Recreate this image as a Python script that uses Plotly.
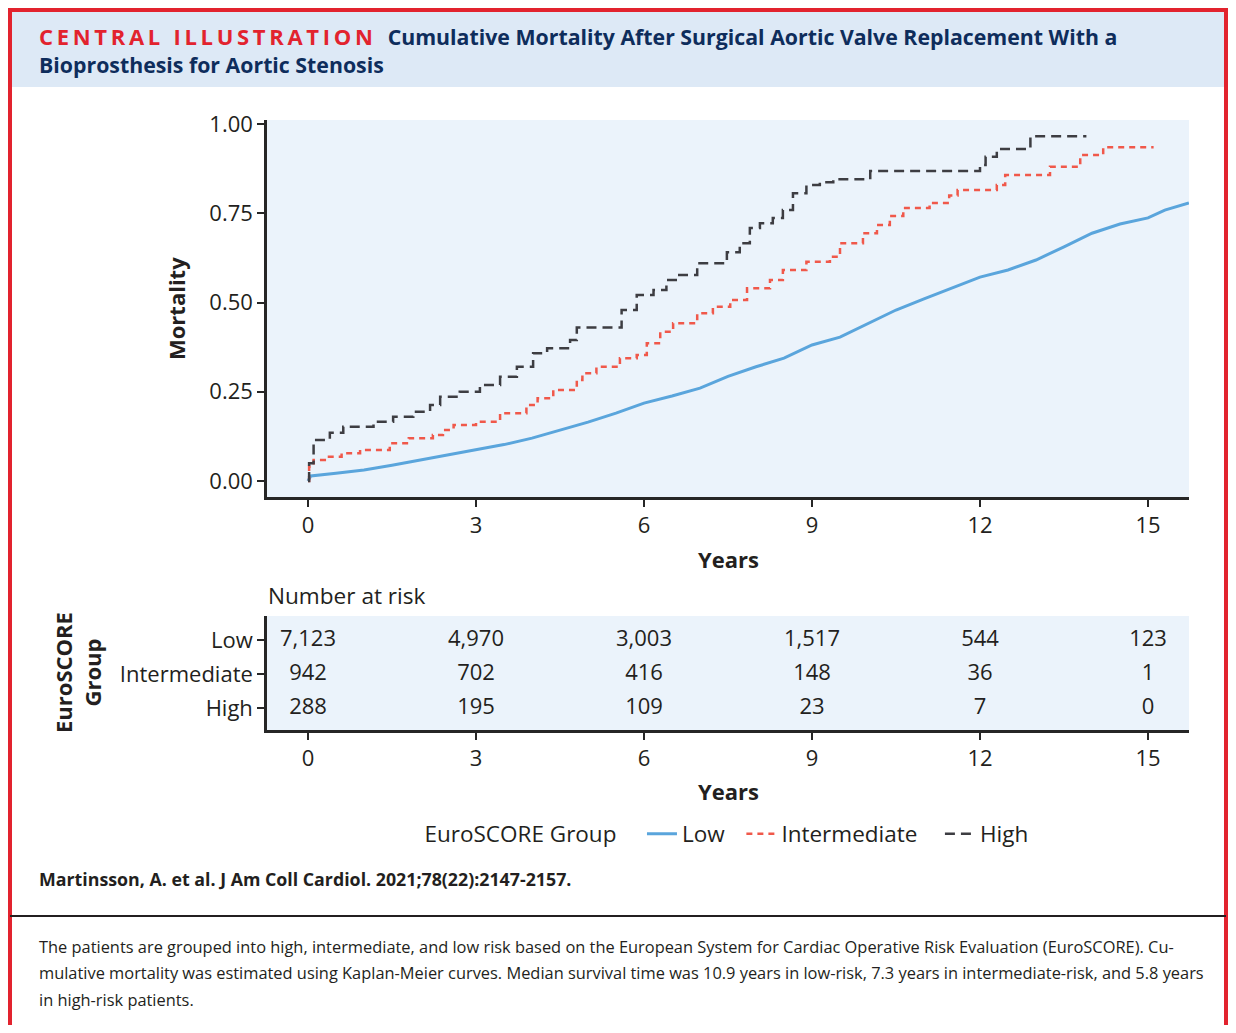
import plotly.graph_objects as go

# The page body adds an 8px margin; size the figure so the page fits the 1236x1033 window.
OFF = 8
W, H = 1226, 1033 - 2 * OFF
def px(x): return (x - OFF) / W
def py(y): return 1 - (y - OFF) / H

FONT = "Open Sans, Noto Sans, sans-serif"
TXT = "#231f20"
NB = "\u00a0"

# ---------------- data ----------------
groups = ["Low", "Intermediate", "High"]

low_t = [0, 0.05, 0.5, 1, 1.5, 2, 2.5, 3, 3.5, 4, 4.5, 5, 5.5, 6, 6.5, 7, 7.5, 8, 8.5, 9,
         9.5, 10, 10.5, 11, 11.5, 12, 12.5, 13, 13.5, 14, 14.5, 15, 15.3, 15.73]
low_m = [0, 0.014, 0.022, 0.031, 0.044, 0.059, 0.072, 0.087, 0.102, 0.12, 0.142, 0.165, 0.19, 0.218,
         0.238, 0.26, 0.293, 0.32, 0.344, 0.381, 0.403, 0.442, 0.479, 0.51, 0.54, 0.571, 0.591, 0.619,
         0.656, 0.694, 0.72, 0.737, 0.759, 0.779]

int_t = [0, 0.02, 0.1, 0.3, 0.6, 0.93, 1.46, 1.8, 2.23, 2.41, 2.6, 3.0, 3.43, 3.9, 4.1, 4.38, 4.8,
         4.9, 5.15, 5.57, 5.87, 6.05, 6.29, 6.52, 6.95, 7.23, 7.54, 7.84, 8.25, 8.48, 8.9, 9.32, 9.5,
         9.91, 10.16, 10.39, 10.63, 11.1, 11.45, 11.6, 12.3, 12.45, 13.25, 13.79, 14.2, 15.1]
int_m = [0, 0.04, 0.059, 0.068, 0.078, 0.087, 0.106, 0.12, 0.129, 0.143, 0.157, 0.166, 0.19, 0.213,
         0.232, 0.255, 0.283, 0.302, 0.32, 0.344, 0.353, 0.386, 0.418, 0.442, 0.47, 0.488, 0.507, 0.54,
         0.563, 0.591, 0.614, 0.628, 0.666, 0.694, 0.717, 0.742, 0.765, 0.779, 0.80, 0.815, 0.829,
         0.857, 0.88, 0.913, 0.935, 0.935]

high_t = [0, 0.02, 0.1, 0.39, 0.63, 1.17, 1.52, 1.88, 2.18, 2.36, 2.71, 3.07, 3.43, 3.73, 4.02, 4.27,
          4.68, 4.8, 5.6, 5.87, 6.17, 6.4, 6.6, 6.95, 7.48, 7.71, 7.89, 8.07, 8.3, 8.48, 8.66, 8.9, 9.14,
          9.38, 10.04, 12.0, 12.1, 12.3, 12.9, 13.9]
high_m = [0, 0.05, 0.115, 0.135, 0.152, 0.166, 0.18, 0.194, 0.213, 0.236, 0.25, 0.269, 0.292, 0.32,
          0.358, 0.372, 0.395, 0.43, 0.479, 0.521, 0.535, 0.563, 0.577, 0.61, 0.641, 0.666, 0.709, 0.722,
          0.737, 0.759, 0.806, 0.829, 0.837, 0.845, 0.868, 0.885, 0.908, 0.93, 0.966, 0.966]

risk_times = [0, 3, 6, 9, 12, 15]
risk_low = ["7,123", "4,970", "3,003", "1,517", "544", "123"]
risk_int = ["942", "702", "416", "148", "36", "1"]
risk_high = ["288", "195", "109", "23", "7", "0"]

y_ticks = [0, 0.25, 0.5, 0.75, 1.0]
y_ticklabels = ["0.00", "0.25", "0.50", "0.75", "1.00"]
x_ticks = [0, 3, 6, 9, 12, 15]

# ---------------- figure ----------------
fig = go.Figure()

fig.add_trace(go.Scatter(x=low_t, y=low_m, mode="lines", name="Low" + NB * 2,
                         line=dict(color="#5aa5dc", width=3), xaxis="x", yaxis="y"))
fig.add_trace(go.Scatter(x=int_t, y=int_m, mode="lines", name="Intermediate" + NB * 3, line_shape="hv",
                         line=dict(color="#f0584a", width=2.5, dash="6px,5px"), xaxis="x", yaxis="y"))
fig.add_trace(go.Scatter(x=high_t, y=high_m, mode="lines", name="High", line_shape="hv",
                         line=dict(color="#3d3d42", width=2.5, dash="10px,6px"), xaxis="x", yaxis="y"))

for vals, g in zip([risk_low, risk_int, risk_high], groups):
    fig.add_trace(go.Scatter(x=risk_times, y=[g] * len(risk_times), mode="text", text=vals,
                             textfont=dict(family=FONT, size=22, color=TXT), showlegend=False,
                             hoverinfo="skip", xaxis="x2", yaxis="y2"))

axis_common = dict(showline=True, linecolor="#262626", linewidth=2.5, ticks="outside",
                   ticklen=7, tickwidth=2, tickcolor="#262626", showgrid=False, zeroline=False,
                   automargin=False, tickfont=dict(family=FONT, size=22, color=TXT))

xr = [(267 - 308) / 56, (1189 - 308) / 56]
fig.update_layout(
    width=W, height=H, margin=dict(l=0, r=0, t=0, b=0, autoexpand=False),
    paper_bgcolor="white", plot_bgcolor="#ebf3fb",
    xaxis=dict(domain=[px(267), px(1189)], range=xr, tickvals=x_ticks, anchor="y", **axis_common),
    yaxis=dict(domain=[py(497), py(120)], range=[(481 - 497) / 357, (481 - 120) / 357],
               tickvals=y_ticks, ticktext=y_ticklabels, anchor="x", **axis_common),
    xaxis2=dict(domain=[px(267), px(1189)], range=xr, tickvals=x_ticks, anchor="y2", **axis_common),
    yaxis2=dict(domain=[py(730), py(616)], range=[-0.647, 2.706], type="category",
                categoryorder="array", categoryarray=["High", "Intermediate", "Low"],
                anchor="x2", **axis_common),
    legend=dict(orientation="h", x=px(728), y=py(834), xanchor="center", yanchor="middle",
                font=dict(family=FONT, size=22.5, color=TXT), bgcolor="rgba(0,0,0,0)",
                title=dict(text="EuroSCORE Group" + NB * 3,
                           font=dict(family=FONT, size=22.5, color=TXT)),
                itemwidth=30, tracegroupgap=0),
    showlegend=True,
)

RED = "#e2232e"
def R(x0, y0, x1, y1, color, layer="above"):
    return dict(type="rect", xref="paper", yref="paper", x0=px(x0), x1=px(x1), y0=py(y1), y1=py(y0),
                fillcolor=color, line=dict(width=0), layer=layer)

shapes = [
    R(12, 12, 1224, 87, "#dde9f6", layer="below"),
    R(8, 8, 1228, 12, RED),          # top border
    R(8, 8, 12, 1040, RED),          # left border
    R(1224, 8, 1228, 1040, RED),     # right border (page clips at ~1228)
    R(10, 915, 1226, 917, "#231f20"),  # separator line
]
fig.update_layout(shapes=shapes)

ann = []
def A(text, x, y, size=22, bold=False, xanchor="left", color=TXT, family=FONT, angle=0,
      yanchor="middle", align="center"):
    t = f"<b>{text}</b>" if bold else text
    ann.append(dict(text=t, x=px(x), y=py(y), xref="paper", yref="paper", showarrow=False,
                    xanchor=xanchor, yanchor=yanchor, textangle=angle, align=align,
                    font=dict(family=family, size=size, color=color)))

A("<span style='color:#e2232e;letter-spacing:3.7px;font-size:22px'>CENTRAL ILLUSTRATION</span>"
  + NB * 2 +
  "<span style='color:#0e2d5c'>Cumulative Mortality After Surgical Aortic Valve Replacement With a</span>"
  "<br><span style='color:#0e2d5c'>Bioprosthesis for Aortic Stenosis</span>",
  37, 50, size=21.3, bold=True, family="Open Sans, sans-serif", align="left")
A("Mortality", 176, 309, bold=True, xanchor="center", angle=-90)
A("Years", 728, 559, bold=True, xanchor="center")
A("Number at risk", 266, 595, size=22.6)
A("EuroSCORE<br>Group", 77, 673, bold=True, xanchor="center", angle=-90)
A("Years", 728, 791, bold=True, xanchor="center")
A("Martinsson, A. et al. J Am Coll Cardiol. 2021;78(22):2147-2157.", 37, 879, size=17.8, bold=True)
cap = ["The patients are grouped into high, intermediate, and low risk based on the European System for Cardiac Operative Risk Evaluation (EuroSCORE). Cu-",
       "mulative mortality was estimated using Kaplan-Meier curves. Median survival time was 10.9 years in low-risk, 7.3 years in intermediate-risk, and 5.8 years",
       "in high-risk patients."]
for i, line in enumerate(cap):
    A(line, 37, 946 + 26.5 * i, size=16.4)
fig.update_layout(annotations=ann)

fig.write_html("out.html")
